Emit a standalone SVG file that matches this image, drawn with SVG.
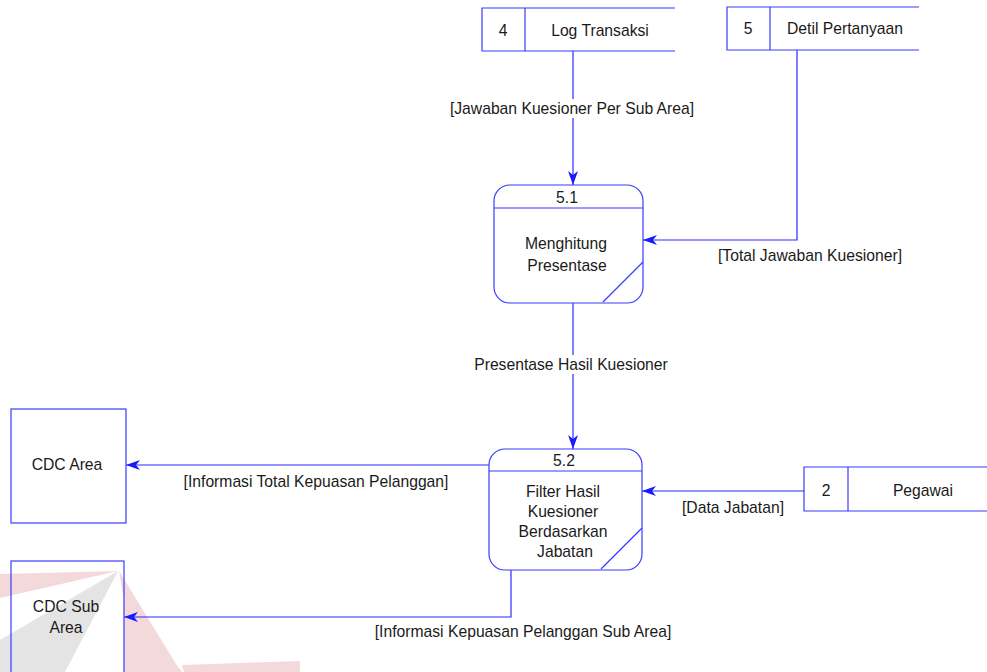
<svg xmlns="http://www.w3.org/2000/svg" width="987" height="672" viewBox="0 0 987 672">
<defs>
<style>
text{font-family:"Liberation Sans",Arial,sans-serif;font-size:15.7px;fill:#1a1a1a;text-anchor:middle}
.box{fill:#fff;stroke:#3b3bff;stroke-width:1.2}
.ln{fill:none;stroke:#2a2aff;stroke-width:1.2}
.lbl{fill:#fff}
</style>
<marker id="ah" viewBox="0 0 14 10" refX="14" refY="5" markerWidth="14" markerHeight="10" markerUnits="userSpaceOnUse" orient="auto">
<path d="M0,0 L14,5 L0,10 L4,5 Z" fill="#1a1aff"/>
</marker>
</defs>
<rect width="987" height="672" fill="#fff"/>
<g id="watermark" opacity="0.9">
<polygon points="0,574 118,571 0,598" fill="#f3d5d8"/>
<polygon points="118,571 0,640 0,672 65,672" fill="#e2e2e2"/>
<polygon points="119,571 176,664 182,672 124,672 124,600" fill="#f3d5d8"/>
<polygon points="182,665 300,661 300,672 184,672" fill="#f3d5d8"/>
</g>
<g id="connectors">
<line class="ln" x1="573" y1="51" x2="573" y2="185" marker-end="url(#ah)"/>
<rect class="lbl" x="446" y="99" width="254" height="19"/>
<text x="572" y="114">[Jawaban Kuesioner Per Sub Area]</text>
<polyline class="ln" points="797,50 797,240 643,240" marker-end="url(#ah)"/>
<text x="810" y="261">[Total Jawaban Kuesioner]</text>
<line class="ln" x1="573" y1="303" x2="573" y2="449" marker-end="url(#ah)"/>
<rect class="lbl" x="470" y="355" width="204" height="19"/>
<text x="571" y="370">Presentase Hasil Kuesioner</text>
<line class="ln" x1="489" y1="465" x2="126" y2="465" marker-end="url(#ah)"/>
<text x="316" y="487">[Informasi Total Kepuasan Pelanggan]</text>
<line class="ln" x1="804" y1="491" x2="642" y2="491" marker-end="url(#ah)"/>
<text x="733" y="513">[Data Jabatan]</text>
<polyline class="ln" points="511,570 511,617 124,617" marker-end="url(#ah)"/>
<text x="523" y="637">[Informasi Kepuasan Pelanggan Sub Area]</text>
</g>
<g id="store4">
<path class="box" d="M675,8 H482 V51 H675"/>
<line class="box" x1="525" y1="8" x2="525" y2="51"/>
<text x="503" y="36">4</text>
<text x="600" y="36">Log Transaksi</text>
</g>
<g id="store5">
<path class="box" d="M919,7 H727 V50 H919"/>
<line class="box" x1="770" y1="7" x2="770" y2="50"/>
<text x="748" y="34">5</text>
<text x="845" y="34">Detil Pertanyaan</text>
</g>
<g id="p51">
<rect class="box" x="494" y="185" width="149" height="118" rx="16" ry="16"/>
<line class="box" x1="494" y1="208" x2="643" y2="208"/>
<line class="box" x1="603" y1="302" x2="643" y2="262"/>
<text x="567" y="203">5.1</text>
<text x="566" y="249">Menghitung</text>
<text x="567" y="271">Presentase</text>
</g>
<g id="p52">
<rect class="box" x="489" y="449" width="153" height="121" rx="16" ry="16"/>
<line class="box" x1="489" y1="471" x2="642" y2="471"/>
<line class="box" x1="601" y1="569" x2="642" y2="528"/>
<text x="564" y="466">5.2</text>
<text x="563" y="497">Filter Hasil</text>
<text x="563" y="517">Kuesioner</text>
<text x="563" y="537">Berdasarkan</text>
<text x="565" y="557">Jabatan</text>
</g>
<g id="cdcArea">
<rect class="box" x="11" y="409" width="115" height="114"/>
<text x="67" y="470">CDC Area</text>
</g>
<g id="cdcSubArea">
<rect class="box" x="11" y="561" width="113" height="130" style="fill:none"/>
<text x="66" y="612">CDC Sub</text>
<text x="66" y="633">Area</text>
</g>
<g id="store2">
<path class="box" d="M987,467 H804 V511 H987"/>
<line class="box" x1="848" y1="467" x2="848" y2="511"/>
<text x="826" y="496">2</text>
<text x="923" y="496">Pegawai</text>
</g>
</svg>
